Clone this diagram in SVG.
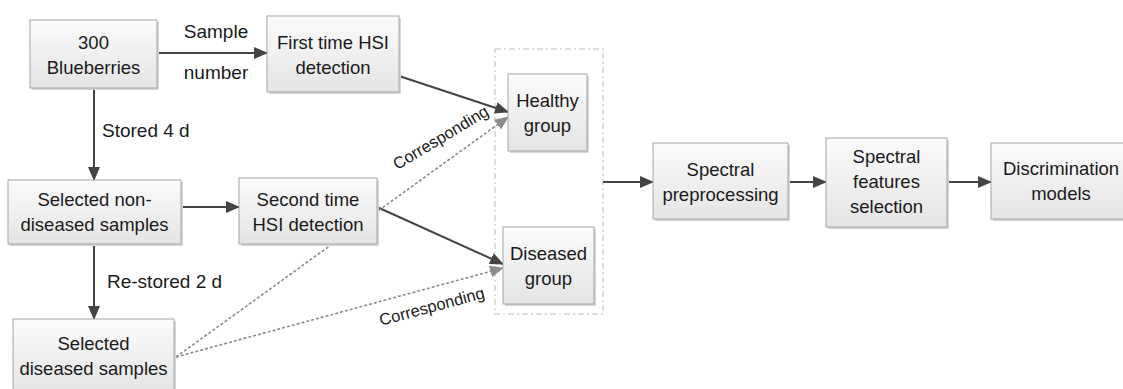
<svg xmlns="http://www.w3.org/2000/svg" width="1123" height="389" viewBox="0 0 1123 389">
<style>
.box{fill:url(#g);stroke:#a6a6a6;stroke-width:1}
.sh{fill:#d6d6d6}
.t{font-family:"Liberation Sans",Arial,sans-serif;font-size:18.5px;fill:#1a1a1a;text-anchor:middle}
.lb{font-family:"Liberation Sans",Arial,sans-serif;font-size:19px;fill:#1a1a1a}
.cl{font-family:"Liberation Sans",Arial,sans-serif;font-size:16.5px;fill:#1a1a1a;text-anchor:middle}
.s{stroke:#444;stroke-width:2;fill:none}
.d{stroke:#8c8c8c;stroke-width:1.6;fill:none;stroke-dasharray:3 2}
</style>
<defs>
<linearGradient id="g" x1="0" y1="0" x2="0" y2="1">
<stop offset="0" stop-color="#fbfbfb"/>
<stop offset="1" stop-color="#e4e4e4"/>
</linearGradient>
<marker id="a" markerUnits="userSpaceOnUse" markerWidth="14" markerHeight="12" refX="13" refY="6" orient="auto">
<path d="M0,0 L14,6 L0,12 z" fill="#444"/>
</marker>
<marker id="ad" markerUnits="userSpaceOnUse" markerWidth="14" markerHeight="12" refX="13" refY="6" orient="auto">
<path d="M0,0 L14,6 L0,12 z" fill="#8c8c8c"/>
</marker>
</defs>
<rect width="1123" height="389" fill="#fff"/>

<g id="container">
<rect x="495" y="49" width="108" height="265" fill="none" stroke="#bdbdbd" stroke-width="1" stroke-dasharray="6 3 2 3"/>
</g>

<g id="connectors">
<line class="s" x1="157" y1="53" x2="267" y2="53" marker-end="url(#a)"/>
<text class="lb" x="216" y="38" text-anchor="middle">Sample</text>
<text class="lb" x="216" y="79" text-anchor="middle">number</text>
<line class="s" x1="94" y1="88" x2="94" y2="180" marker-end="url(#a)"/>
<text class="lb" x="102" y="137">Stored 4 d</text>
<line class="s" x1="181" y1="207" x2="239" y2="207" marker-end="url(#a)"/>
<line class="s" x1="94" y1="244" x2="94" y2="319" marker-end="url(#a)"/>
<text class="lb" x="107" y="288">Re-stored 2 d</text>
<line class="s" x1="399" y1="76" x2="508" y2="112" marker-end="url(#a)"/>
<line class="s" x1="377" y1="207" x2="503" y2="264" marker-end="url(#a)"/>
<line class="d" x1="176" y1="357" x2="508" y2="117" marker-end="url(#ad)"/>
<line class="d" x1="176" y1="357" x2="503" y2="268" marker-end="url(#ad)"/>
<text class="cl" transform="translate(441,138) rotate(-31)" y="5">Corresponding</text>
<text class="cl" transform="translate(432,307) rotate(-15)" y="5">Corresponding</text>
<line class="s" x1="603" y1="182" x2="653" y2="182" marker-end="url(#a)"/>
<line class="s" x1="788" y1="182" x2="826" y2="182" marker-end="url(#a)"/>
<line class="s" x1="947" y1="182" x2="991" y2="182" marker-end="url(#a)"/>
</g>

<g id="n1">
<rect class="sh" x="32" y="22" width="127" height="68"/>
<rect class="box" x="30" y="20" width="127" height="68"/>
<text class="t" x="93.5" y="48.5">300</text>
<text class="t" x="93.5" y="73.5">Blueberries</text>
</g>
<g id="n2">
<rect class="sh" x="269" y="18" width="132" height="76"/>
<rect class="box" x="267" y="16" width="132" height="76"/>
<text class="t" x="333" y="48.5">First time HSI</text>
<text class="t" x="333" y="73.5">detection</text>
</g>
<g id="n3">
<rect class="sh" x="10" y="182" width="173" height="64"/>
<rect class="box" x="8" y="180" width="173" height="64"/>
<text class="t" x="94.5" y="205.5">Selected non-</text>
<text class="t" x="94.5" y="230.5">diseased samples</text>
</g>
<g id="n4">
<rect class="sh" x="241" y="180" width="138" height="66"/>
<rect class="box" x="239" y="178" width="138" height="66"/>
<text class="t" x="308" y="205.5">Second time</text>
<text class="t" x="308" y="230.5">HSI detection</text>
</g>
<g id="n5">
<rect class="sh" x="15" y="321" width="161" height="74"/>
<rect class="box" x="13" y="319" width="161" height="74"/>
<text class="t" x="93.5" y="350">Selected</text>
<text class="t" x="93.5" y="375">diseased samples</text>
</g>
<g id="n6">
<rect class="sh" x="510" y="76" width="79" height="77"/>
<rect class="box" x="508" y="74" width="79" height="77"/>
<text class="t" x="547.5" y="106.5">Healthy</text>
<text class="t" x="547.5" y="131.5">group</text>
</g>
<g id="n7">
<rect class="sh" x="505" y="229" width="91" height="77"/>
<rect class="box" x="503" y="227" width="91" height="77"/>
<text class="t" x="548.5" y="259.5">Diseased</text>
<text class="t" x="548.5" y="284.5">group</text>
</g>
<g id="n8">
<rect class="sh" x="655" y="145" width="135" height="76"/>
<rect class="box" x="653" y="143" width="135" height="76"/>
<text class="t" x="720.5" y="175.5">Spectral</text>
<text class="t" x="720.5" y="200.5">preprocessing</text>
</g>
<g id="n9">
<rect class="sh" x="828" y="140" width="121" height="89"/>
<rect class="box" x="826" y="138" width="121" height="89"/>
<text class="t" x="886.5" y="163">Spectral</text>
<text class="t" x="886.5" y="188">features</text>
<text class="t" x="886.5" y="213">selection</text>
</g>
<g id="n10">
<rect class="sh" x="993" y="145" width="140" height="76"/>
<rect class="box" x="991" y="143" width="140" height="76"/>
<text class="t" x="1061" y="174.5">Discrimination</text>
<text class="t" x="1061" y="199.5">models</text>
</g>
</svg>
